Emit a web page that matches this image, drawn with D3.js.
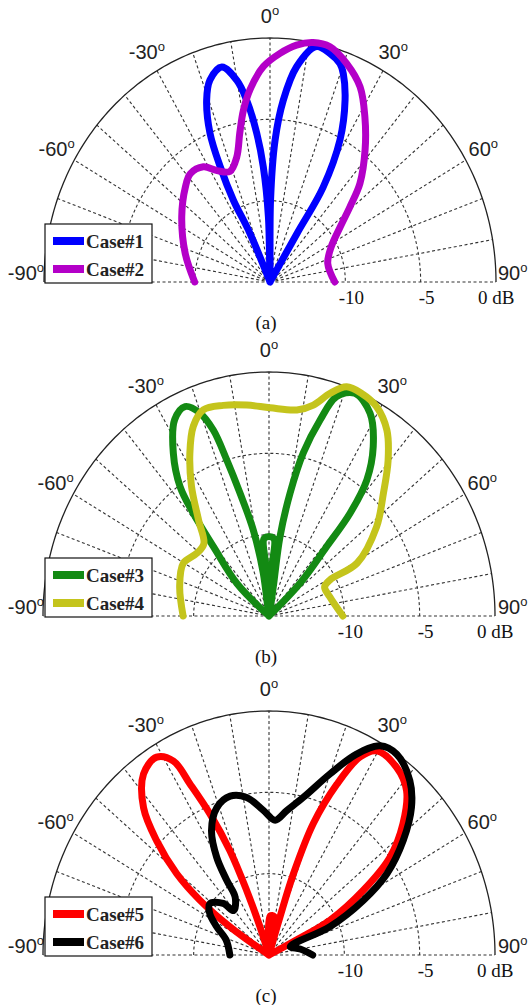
<!DOCTYPE html>
<html><head><meta charset="utf-8">
<script src="https://cdn.jsdelivr.net/npm/d3@7"></script>
<style>body{margin:0;background:#fff}svg{display:block}</style>
</head><body>
<svg id="chart" width="531" height="1005"></svg>
<script>
// ---- data ----
const angleLabels = [-90, -60, -30, 0, 30, 60, 90];
const spokeAngles = [-90, -80, -70, -60, -50, -40, -30, -20, -10, 0, 10, 20, 30, 40, 50, 60, 70, 80, 90];
const ringDb = [-10, -5];
const dbTicks = [-10, -5, 0];
const dbTickLabels = ["-10", "-5", "0 dB"];
const panelLabels = ["(a)", "(b)", "(c)"];

const case1Angles = [-24, -24, -25.8, -25, -23.5, -20.6, -17.8, -13.6, -10.1, -7.9, -5.5, -3.6, -1.5, -0.5, 0.4, 2.2, 4.5, 7.6, 12, 15.8, 19.1, 20.8, 24, 28, 31.2, 31, 30];
const case1Db =     [-15, -11.7, -9.4, -7.2, -5, -3.05, -1.96, -1.4, -2.4, -3.7, -5.8, -7.9, -11, -15, -10, -6.3, -3.8, -1.65, -0.2, -0.4, -0.8, -1.3, -2.75, -5.1, -8.2, -11.5, -15];

const case2Angles = [-90, -72.6, -55.6, -43.9, -38.5, -32, -27.2, -21.4, -16, -12.3, -9.5, -6.4, -1.9, 2.7, 6.9, 11, 15.4, 20.7, 26.5, 31.8, 37.8, 44.6, 48.9, 53.8, 62, 73.4, 90];
const case2Db =     [-10, -9.1, -7.9, -6.9, -6.5, -6.65, -7.3, -7.7, -7, -5.6, -4.3, -3.1, -1.75, -0.93, -0.33, 0, 0, -0.63, -1.6, -3.05, -4.7, -6.5, -7.95, -9.2, -10.4, -11, -10.7];

const case3Angles = [-47.5, -46.8, -40.9, -38.5, -36.6, -32.4, -27.4, -23.4, -20.2, -17.9, -16.3, -14.3, -11.2, -8.2, -6, -3.8, -3.6, 3.6, 3.8, 6.5, 9, 8.5, 10.5, 12.8, 15.7, 18.4, 22.6, 28.3, 33.6, 37.8, 40.4, 41.9, 45.6, 47];
const case3Db =     [-15, -12.1, -9.4, -6.9, -5.1, -3.15, -1.4, -0.97, -1.7, -3, -5, -7.2, -9.6, -12.3, -15, -12, -10.2, -10.2, -12, -15, -13.2, -10.1, -7.3, -4.7, -2.5, -0.78, -0.17, -0.85, -2.5, -4.4, -6.7, -9.3, -12.1, -15];

const case4Angles = [-90, -73, -60.3, -51.2, -44.2, -38.5, -32.8, -27.7, -23.3, -19, -13.2, -6.5, 0.3, 8.3, 12.8, 16.5, 20.1, 24.2, 29, 34.4, 39.6, 45.2, 52.5, 60.9, 61.3, 64.2, 73.7, 90];
const case4Db =     [-9.3, -8.8, -8.45, -8.85, -8.8, -7.5, -5.5, -3.7, -2.3, -1.6, -1.7, -1.95, -2.2, -2.2, -1.7, -0.72, 0, 0, -0.28, -1.15, -2.6, -4.3, -6, -8.3, -10.4, -10.9, -10.8, -10.1];

const case5Angles = [-57, -56.2, -53.7, -50.8, -46.7, -42.6, -36.8, -31.5, -28, -26.5, -24.3, -22, -20.5, -19, -15, -1, 2, 8, 12, 15, 17.3, 18, 20, 23.2, 26.4, 29.7, 36.3, 42.1, 47.8, 53.2, 57.6, 62.1, 63, 64];
const case5Db =     [-15, -11.9, -9.3, -7.1, -4.75, -2.7, -1.1, -0.73, -1.5, -3.25, -5.5, -8.1, -10.75, -13.2, -15, -15, -12.6, -12.6, -15, -15, -12.5, -9.75, -6.4, -3.6, -1.4, -0.55, -0.69, -1.38, -3, -4.97, -7.6, -10.4, -13.3, -15];

const case6Angles = [-90, -71.9, -63.3, -56.9, -51, -43.8, -40.7, -32.3, -31.4, -30, -26.5, -20.9, -14.8, -8.7, -2.4, 2.8, 7.5, 13.2, 20, 25.2, 29.8, 34.5, 41.1, 46.2, 51.7, 57.4, 61.8, 66.7, 70, 80, 90];
const case6Db =     [-12.4, -12, -11.1, -10.3, -9.96, -10.6, -11.4, -10.8, -9.6, -8.05, -6.45, -5.3, -4.9, -5.2, -6.1, -6.7, -6.05, -5.05, -3.15, -1.35, -0.18, -0.03, -0.78, -1.9, -3.65, -5.7, -7.9, -10.6, -13.5, -12.9, -12.1];

const seriesNames = ["Case#1", "Case#2", "Case#3", "Case#4", "Case#5", "Case#6"];
const seriesColors = ["#0000ff", "#b400c8", "#138a13", "#c4c41c", "#ff0000", "#000000"];

// ---- build ----
const panels = [
  {cx: 270, cy: 282, label: panelLabels[0], series: [[case1Angles, case1Db, 0], [case2Angles, case2Db, 1]]},
  {cx: 269, cy: 616, label: panelLabels[1], series: [[case3Angles, case3Db, 2], [case4Angles, case4Db, 3]]},
  {cx: 269, cy: 955, label: panelLabels[2], series: [[case5Angles, case5Db, 4], [case6Angles, case6Db, 5]]}
];
const RX = 226, RY = 244;
const rScale = d3.scaleLinear().domain([-15, 0]).range([0, 1]).clamp(true);
const svg = d3.select("#chart");
const rad = d => d * Math.PI / 180;

panels.forEach(p => {
  const g = svg.append("g");
  const px = (a, r) => p.cx + RX * r * Math.sin(rad(a));
  const py = (a, r) => p.cy - RY * r * Math.cos(rad(a));
  const arcPts = r => d3.range(-90, 90.5, 1).map(a => [px(a, r), py(a, r)]);
  const lineGen = d3.line();

  // rings
  ringDb.forEach(db => {
    g.append("path").attr("d", lineGen(arcPts(rScale(db))))
      .attr("fill", "none").attr("stroke", "#333").attr("stroke-width", 1.1).attr("stroke-dasharray", "3,2.5");
  });
  // spokes
  g.selectAll("line.spoke").data(spokeAngles).join("line")
    .attr("x1", p.cx).attr("y1", p.cy)
    .attr("x2", a => px(a, 1)).attr("y2", a => py(a, 1))
    .attr("stroke", "#333").attr("stroke-width", 1.1).attr("stroke-dasharray", "3,2.5");
  // outer
  g.append("path").attr("d", lineGen(arcPts(1)))
    .attr("fill", "none").attr("stroke", "#222").attr("stroke-width", 1.3);

  // angle labels
  angleLabels.forEach(a => {
    let x = px(a, 1.09), y = py(a, 1.09) + 7, anchor = "middle";
    if (a === -90) { x = 44; y = p.cy - 2; anchor = "end"; }
    if (a === 90) { x = 498; y = p.cy - 2; anchor = "start"; }
    const t = g.append("text")
      .attr("x", x).attr("y", y)
      .attr("text-anchor", anchor)
      .attr("font-family", "Liberation Sans, Arial, sans-serif").attr("font-size", 20).attr("fill", "#222");
    t.append("tspan").text(String(a));
    t.append("tspan").attr("font-size", 13).attr("dy", -8).text("o");
  });
  // dB labels
  dbTicks.forEach((db, i) => {
    const x = px(90, rScale(db));
    g.append("text").attr("x", i === 2 ? x - 18 : x + 6).attr("y", p.cy + 22)
      .attr("text-anchor", i === 2 ? "start" : "middle")
      .attr("font-family", "Liberation Serif, Times New Roman, serif").attr("font-size", 19).attr("fill", "#111")
      .text(dbTickLabels[i]);
  });

  // curves
  const curve = d3.line().x(d => px(d[0], rScale(d[1]))).y(d => py(d[0], rScale(d[1])))
    .curve(d3.curveCatmullRom.alpha(0.5));
  p.series.forEach(([angs, dbs, k]) => {
    const pts = angs.map((a, i) => [a, dbs[i]]);
    g.append("path").attr("d", curve(pts)).attr("fill", "none")
      .attr("stroke", seriesColors[k]).attr("stroke-width", 7)
      .attr("stroke-linejoin", "round").attr("stroke-linecap", "round");
  });

  // legend
  const lg = g.append("g");
  lg.append("rect").attr("x", 45).attr("y", p.cy - 58).attr("width", 107).attr("height", 59)
    .attr("fill", "#fff").attr("stroke", "#111").attr("stroke-width", 1.2);
  p.series.forEach(([, , k], j) => {
    const yy = p.cy - 41 + j * 28;
    lg.append("line").attr("x1", 53).attr("x2", 84).attr("y1", yy).attr("y2", yy)
      .attr("stroke", seriesColors[k]).attr("stroke-width", 8);
    lg.append("text").attr("x", 86).attr("y", yy + 7)
      .attr("font-family", "Liberation Serif, Times New Roman, serif").attr("font-size", 19)
      .attr("font-weight", "bold").attr("fill", "#222")
      .text(seriesNames[k]);
  });

  // panel label
  g.append("text").attr("x", 266).attr("y", p.cy + 47).attr("text-anchor", "middle")
    .attr("font-family", "Liberation Serif, Times New Roman, serif").attr("font-size", 19).attr("fill", "#111")
    .text(p.label);
});
</script>
</body></html>
